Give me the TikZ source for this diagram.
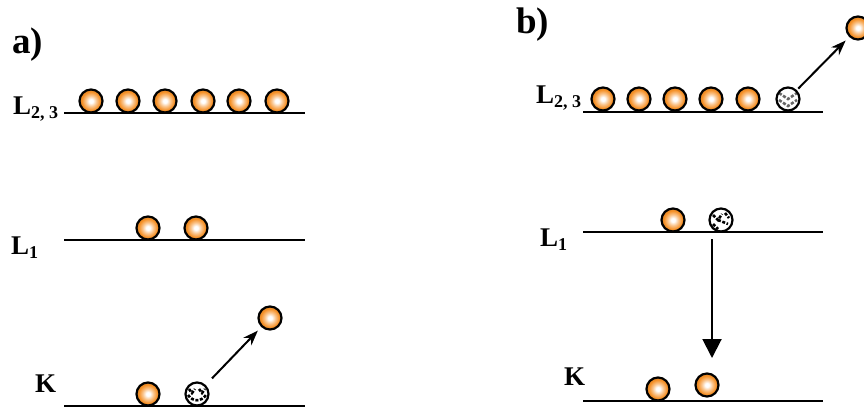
\documentclass[tikz,border=0pt]{standalone}
\usepackage{fontspec}
\setmainfont{Liberation Serif}
\usetikzlibrary{arrows.meta}
\definecolor{ballorange}{RGB}{245,145,40}
\pgfdeclareradialshading{ballsh}{\pgfpoint{0bp}{0bp}}{%
  color(0bp)=(white); color(4bp)=(white); color(12bp)=(ballorange!55!white);
  color(20bp)=(ballorange); color(25bp)=(ballorange!92!black); color(50bp)=(ballorange!92!black)}
\tikzset{
  lvl/.style={line width=2pt},
  ball/.style={circle, draw=black, line width=2.2pt, minimum size=23pt, inner sep=0pt,
    shading=ballsh},
  holea/.style={circle, draw=black, line width=2.2pt, minimum size=23pt, inner sep=0pt, fill=white,
    path picture={\begin{scope}[shift={(path picture bounding box.center)}]
      \draw[black, line width=2.6pt, dash pattern=on 3pt off 1.6pt]
        (-8,-5) -- (-5,-1) -- (-2,-5) (2,-5) -- (5,-1) -- (8,-5)
        (-9,1) .. controls (-4,8) and (4,8) .. (9,1);
    \end{scope}}},
  holeb/.style={circle, draw=black, line width=2.2pt, minimum size=23pt, inner sep=0pt, fill=white,
    path picture={\begin{scope}[shift={(path picture bounding box.center)}]
      \draw[black!60, line width=2.6pt, dash pattern=on 3.2pt off 1.6pt]
        (-9,-6) -- (0,0) -- (9,-6) (-9,1) -- (0,7) -- (9,1);
    \end{scope}}},
  holec/.style={circle, draw=black, line width=2.2pt, minimum size=23pt, inner sep=0pt, fill=white,
    path picture={\begin{scope}[shift={(path picture bounding box.center)}]
      \draw[black, line width=2.6pt, dash pattern=on 3pt off 1.6pt]
        (-8,-5) -- (-3,0) -- (1,-6) (-3,0) -- (7,4) (-8,4) -- (-3,9) (4,-7) -- (8,-2);
    \end{scope}}},
  lab/.style={anchor=base west, inner sep=0pt, font=\fontsize{27}{27}\selectfont\bfseries},
  head/.style={anchor=base west, inner sep=0pt, font=\fontsize{37}{37}\selectfont\bfseries},
  arr/.style={line width=2pt, -{Stealth[length=15pt,width=11pt]}},
  varr/.style={line width=2pt, -{Triangle[length=19pt,width=19pt]}}
}
\newcommand\subs[1]{\raisebox{-4pt}{\fontsize{18}{18}\selectfont #1}}
\begin{document}
\begin{tikzpicture}[x=1pt,y=-1pt]
\useasboundingbox (0,0) rectangle (864,409);
\clip (0,0) rectangle (864,409);
% ---------- panel a ----------
\node[head] (ta) at (12,54) {a)};
\node[lab] (la23) at (13,114) {L\subs{2, 3}};
\node[lab] (la1) at (11,254) {L\subs{1}};
\node[lab] (lak) at (35,392) {K};
\coordinate (a1s) at (64,113); \coordinate (a1e) at (305,113);
\coordinate (a2s) at (64,240); \coordinate (a2e) at (305,240);
\coordinate (a3s) at (64,406); \coordinate (a3e) at (305,406);
\draw[lvl] (a1s) -- (a1e);
\draw[lvl] (a2s) -- (a2e);
\draw[lvl] (a3s) -- (a3e);
\node[ball] (aa1) at (91,101) {};
\node[ball] (aa2) at (128,101) {};
\node[ball] (aa3) at (165,101) {};
\node[ball] (aa4) at (203,101) {};
\node[ball] (aa5) at (239,101) {};
\node[ball] (aa6) at (277,101) {};
\node[ball] (ab1) at (148,228) {};
\node[ball] (ab2) at (196,228) {};
\node[ball] (ac1) at (148,394) {};
\node[holea] (ah) at (197,394) {};
\node[ball] (aout) at (270,318) {};
\draw[arr, shorten <=9pt, shorten >=5pt] (ah) -- (aout);
% ---------- panel b ----------
\node[head] (tb) at (516,34) {b)};
\node[lab] (lb23) at (536,103) {L\subs{2, 3}};
\node[lab] (lb1) at (540,246) {L\subs{1}};
\node[lab] (lbk) at (564,385) {K};
\coordinate (b1s) at (583,112); \coordinate (b1e) at (823,112);
\coordinate (b2s) at (583,232); \coordinate (b2e) at (823,232);
\coordinate (b3s) at (583,401); \coordinate (b3e) at (823,401);
\draw[lvl] (b1s) -- (b1e);
\draw[lvl] (b2s) -- (b2e);
\draw[lvl] (b3s) -- (b3e);
\node[ball] (ba1) at (603,99) {};
\node[ball] (ba2) at (639,99) {};
\node[ball] (ba3) at (675,99) {};
\node[ball] (ba4) at (711,99) {};
\node[ball] (ba5) at (748,99) {};
\node[holeb] (bh1) at (788,99) {};
\node[ball] (bout) at (858,28) {};
\draw[arr, shorten <=2pt, shorten >=5pt] (bh1) -- (bout);
\node[ball] (bb1) at (673,220) {};
\node[holec] (bh2) at (721,220) {};
\node[ball] (bc1) at (658,389) {};
\node[ball] (bc2) at (707,385) {};
\coordinate (vs) at (712,239);
\coordinate (ve) at (712,358);
\draw[varr] (vs) -- (ve);
\end{tikzpicture}
\end{document}
